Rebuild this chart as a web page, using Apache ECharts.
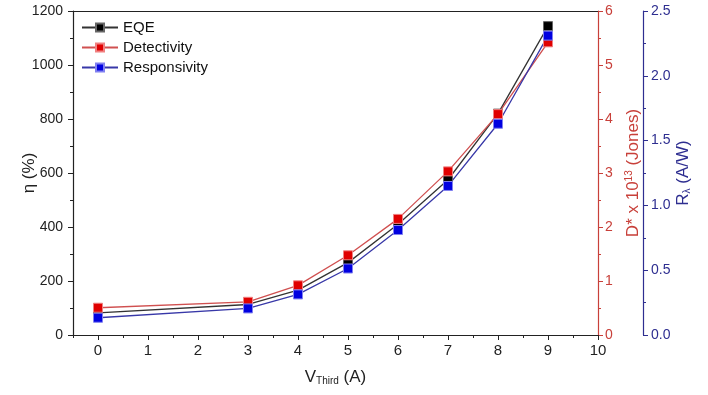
<!DOCTYPE html>
<html>
<head>
<meta charset="utf-8">
<script src="https://cdn.jsdelivr.net/npm/echarts@6/dist/echarts.min.js"></script>
<style>html,body{margin:0;padding:0;background:#fff}#c{width:708px;height:395px}</style>
</head>
<body>
<div id="c"></div>
<script>
const xValues = [0, 3, 4, 5, 6, 7, 8, 9];
const eqe = [82, 113, 166, 268, 410, 575, 820, 1144];
const detectivity = [0.505, 0.615, 0.92, 1.476, 2.15, 3.03, 4.09, 5.42];
const responsivity = [0.133, 0.205, 0.313, 0.513, 0.81, 1.15, 1.63, 2.31];
const xMajorTicks = [0,1,2,3,4,5,6,7,8,9,10];
const xMinorTicks = [-0.5,0.5,1.5,2.5,3.5,4.5,5.5,6.5,7.5,8.5,9.5];

const FONT = 'Liberation Sans, Arial, sans-serif';
const RED = '#c8403a';
const NAVY = '#2e2e90';
const pairs = (ys) => xValues.map((x, i) => [x, ys[i]]);

const chart = echarts.init(document.getElementById('c'), null, {renderer: 'canvas'});
chart.setOption({
  backgroundColor: '#fff',
  animation: false,
  textStyle: {fontFamily: FONT},
  grid: {left: 73, right: 110, top: 11, bottom: 60, containLabel: false},
  legend: {
    left: 76, top: 15, orient: 'vertical', itemGap: 5, itemWidth: 36, itemHeight: 10,
    textStyle: {fontSize: 15, color: '#111', fontFamily: FONT},
    data: ['EQE', 'Detectivity', 'Responsivity']
  },
  xAxis: [
    {
      type: 'value', position: 'bottom', min: -0.5, max: 10,
      name: '{m|V}{s|Third}{m| (A)}', nameLocation: 'middle', nameGap: 33, nameMoveOverlap: false,
      nameTextStyle: {rich: {m: {fontSize: 17, color: '#222', fontFamily: FONT}, s: {fontSize: 10, color: '#222', verticalAlign: 'bottom', padding: [8,0,0,0], fontFamily: FONT}}},
      axisLine: {onZero: false, lineStyle: {color: '#222', width: 1.2}},
      axisTick: {customValues: xMajorTicks, length: 5, inside: false, lineStyle: {color: '#222'}},
      axisLabel: {customValues: xMajorTicks, fontSize: 15, color: '#222', margin: 8},
      splitLine: {show: false}
    },
    {
      type: 'value', position: 'bottom', min: -0.5, max: 10,
      axisLine: {show: false, onZero: false},
      axisTick: {customValues: xMinorTicks, length: 3, lineStyle: {color: '#222'}},
      axisLabel: {show: false},
      splitLine: {show: false}
    },
    {
      type: 'value', position: 'top', min: -0.5, max: 10,
      axisLine: {onZero: false, lineStyle: {color: '#222', width: 1.2}},
      axisTick: {show: false}, axisLabel: {show: false}, splitLine: {show: false}
    }
  ],
  yAxis: [
    {
      type: 'value', position: 'left', min: 0, max: 1200, interval: 200,
      name: 'η (%)', nameLocation: 'middle', nameGap: 35, nameRotate: 90, nameMoveOverlap: false,
      nameTextStyle: {fontSize: 17, color: '#222', fontFamily: FONT},
      axisLine: {show: true, onZero: false, lineStyle: {color: '#222', width: 1.2}},
      axisTick: {show: true, length: 5, lineStyle: {color: '#222'}},
      minorTick: {show: true, splitNumber: 2, length: 3, lineStyle: {color: '#222'}},
      axisLabel: {fontSize: 14, color: '#222', margin: 10, formatter: v => String(v)},
      splitLine: {show: false}
    },
    {
      type: 'value', position: 'right', min: 0, max: 6, interval: 1,
      name: '{m|D* x 10}{s|13}{m| (Jones)}', nameLocation: 'middle', nameGap: 26, nameRotate: 90, nameMoveOverlap: false,
      nameTextStyle: {rich: {m: {fontSize: 17, color: RED, fontFamily: FONT}, s: {fontSize: 10, color: RED, verticalAlign: 'top', padding: [0,0,8,0], fontFamily: FONT}}},
      axisLine: {show: true, onZero: false, lineStyle: {color: RED, width: 1.2}},
      axisTick: {show: true, length: 5, lineStyle: {color: RED}},
      minorTick: {show: true, splitNumber: 2, length: 3, lineStyle: {color: RED}},
      axisLabel: {fontSize: 14, color: RED, margin: 7},
      splitLine: {show: false}
    },
    {
      type: 'value', position: 'right', offset: 45, min: 0, max: 2.5, interval: 0.5,
      name: '{m|R}{s|λ}{m| (A/W)}', nameLocation: 'middle', nameGap: 32, nameRotate: 90, nameMoveOverlap: false,
      nameTextStyle: {rich: {m: {fontSize: 17, color: NAVY, fontFamily: FONT}, s: {fontSize: 10, color: NAVY, verticalAlign: 'bottom', padding: [6,0,0,0], fontFamily: FONT}}},
      axisLine: {show: true, onZero: false, lineStyle: {color: NAVY, width: 1.2}},
      axisTick: {show: true, length: 5, lineStyle: {color: NAVY}},
      minorTick: {show: true, splitNumber: 2, length: 3, lineStyle: {color: NAVY}},
      axisLabel: {fontSize: 14, color: NAVY, margin: 8, formatter: v => v.toFixed(1)},
      splitLine: {show: false}
    }
  ],
  series: [
    {
      name: 'EQE', type: 'line', xAxisIndex: 0, yAxisIndex: 0, data: pairs(eqe),
      symbol: 'rect', symbolSize: 9,
      lineStyle: {color: '#333', width: 1.3},
      itemStyle: {color: '#000', borderColor: '#666', borderWidth: 1}
    },
    {
      name: 'Detectivity', type: 'line', xAxisIndex: 0, yAxisIndex: 1, data: pairs(detectivity),
      symbol: 'rect', symbolSize: 9,
      lineStyle: {color: '#d05050', width: 1.3},
      itemStyle: {color: '#e00000', borderColor: '#f08080', borderWidth: 1}
    },
    {
      name: 'Responsivity', type: 'line', xAxisIndex: 0, yAxisIndex: 2, data: pairs(responsivity),
      symbol: 'rect', symbolSize: 9,
      lineStyle: {color: '#3838a8', width: 1.3},
      itemStyle: {color: '#0000e0', borderColor: '#8080f0', borderWidth: 1}
    }
  ]
});
</script>
</body>
</html>
